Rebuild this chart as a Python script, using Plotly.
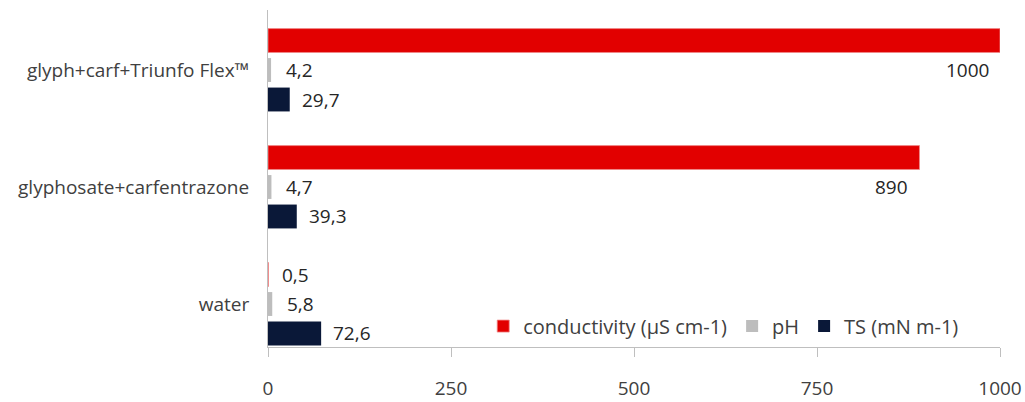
import plotly.graph_objects as go

categories = ["water", "glyphosate+carfentrazone", "glyph+carf+Triunfo Flex\u2122"]
conductivity = [0.5, 890, 1000]
ph = [5.8, 4.7, 4.2]
ts = [72.6, 39.3, 29.7]
x_ticks = [0, 250, 500, 750, 1000]

FONT = "Open Sans"
FS = 19
TXT = "#404040"
BARGAP = 0.244
slot = (1 - BARGAP) / 3
ypos = list(range(len(categories)))

def fmt(v):
    s = f"{v:g}"
    return s.replace(".", ",")

fig = go.Figure()
fig.add_trace(go.Bar(y=ypos, x=ts, orientation="h", name="TS (mN m-1)",
                     marker=dict(color="#0A1838", line=dict(width=0)), legendrank=3))
fig.add_trace(go.Bar(y=ypos, x=ph, orientation="h", name="pH",
                     marker=dict(color="#BDBDBD", line=dict(width=0)), legendrank=2))
fig.add_trace(go.Bar(y=ypos, x=conductivity, orientation="h", name="conductivity (\u00b5S cm-1)",
                     marker=dict(color="#E20000", line=dict(color="#F08A8A", width=0.8)),
                     legendrank=1))

ann = []
for i, v in enumerate(ts):
    ann.append(dict(x=v, y=i - slot, text=fmt(v), xanchor="left", xshift=10))
for i, v in enumerate(ph):
    ann.append(dict(x=v, y=i, text=fmt(v), xanchor="left", xshift=13))
for i, v in enumerate(conductivity):
    if v > 100:
        ann.append(dict(x=v, y=i, text=fmt(v), xanchor="right", xshift=-9))
    else:
        ann.append(dict(x=v, y=i + slot, text=fmt(v), xanchor="left", xshift=12))
for a in ann:
    a.update(xref="x", yref="y", showarrow=False, yanchor="middle",
             font=dict(family=FONT, size=FS, color="#262626"))

fig.update_layout(
    width=1025, height=402,
    margin=dict(l=268, r=25, t=10, b=55, autoexpand=False),
    plot_bgcolor="white", paper_bgcolor="white",
    barmode="group", bargap=BARGAP, bargroupgap=0.19,
    font=dict(family=FONT, size=FS, color=TXT),
    annotations=ann,
    legend=dict(orientation="h", x=0.294, xanchor="left", y=0.062, yanchor="middle",
                font=dict(family=FONT, size=20, color=TXT), bgcolor="rgba(0,0,0,0)",
                traceorder="normal"),
    showlegend=True,
)
fig.update_xaxes(range=[0, 1000], tickvals=x_ticks, ticktext=[str(t) for t in x_ticks],
                 showgrid=False, zeroline=False, showline=True, linecolor="#BFBFBF",
                 ticks="outside", ticklen=9, tickcolor="#BFBFBF", automargin=False,
                 ticklabelstandoff=15, tickfont=dict(family=FONT, size=FS, color=TXT))
fig.update_yaxes(range=[-0.3675, 2.513], tickvals=ypos, ticktext=categories,
                 showgrid=False, zeroline=False, showline=True, linecolor="#BFBFBF",
                 ticks="", ticklabelstandoff=14, automargin=False,
                 tickfont=dict(family=FONT, size=FS, color=TXT))

fig.write_html("out.html")
